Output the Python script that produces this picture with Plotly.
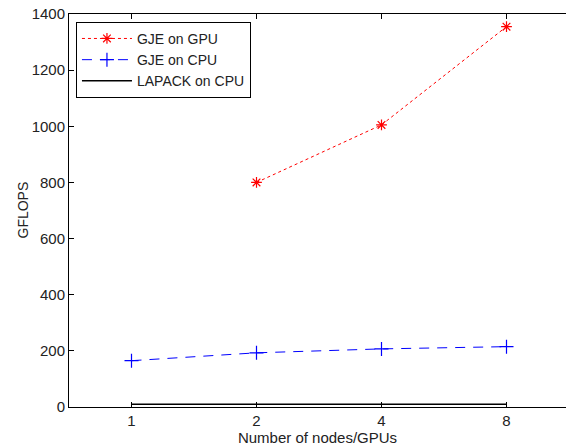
import plotly.graph_objects as go

nodes = ["1", "2", "4", "8"]
gpu_nodes = ["2", "4", "8"]
gje_gpu = [800, 1005, 1355]
gje_cpu = [165, 193, 207, 215]
lapack_cpu = [10, 10, 10, 10]
y_ticks = [0, 200, 400, 600, 800, 1000, 1200, 1400]

FONT = "Liberation Sans, Arial, sans-serif"
TXT = "#222"

fig = go.Figure()
fig.add_trace(go.Scatter(
    x=gpu_nodes, y=gje_gpu, name="GJE on GPU", mode="lines+markers",
    line=dict(color="red", width=1, dash="dot"),
    marker=dict(symbol="asterisk-open", size=9, line=dict(color="red", width=1.2)),
))
fig.add_trace(go.Scatter(
    x=nodes, y=gje_cpu, name="GJE on CPU", mode="lines+markers",
    line=dict(color="blue", width=1, dash="10px,8px"),
    marker=dict(symbol="cross-thin-open", size=10, line=dict(color="blue", width=1.2)),
))
fig.add_trace(go.Scatter(
    x=nodes, y=lapack_cpu, name="LAPACK on CPU", mode="lines",
    line=dict(color="black", width=1.5),
))

tick_common = dict(
    ticks="inside", ticklen=5, tickcolor="black", tickwidth=1,
    showgrid=False, zeroline=False, automargin=False,
    ticklabeloverflow="allow",
    tickfont=dict(family=FONT, size=15, color=TXT),
)

fig.update_xaxes(
    type="category", categoryorder="array", categoryarray=nodes,
    range=[-0.5, 3.476],
    showline=True, linecolor="black", linewidth=1, mirror="ticks",
    title=dict(text="Number of nodes/GPUs", font=dict(family=FONT, size=15, color=TXT)),
    **tick_common,
)
fig.update_yaxes(
    range=[0, 1400], tickvals=y_ticks,
    showline=True, linecolor="black", linewidth=1, mirror=False,
    **tick_common,
)
# right-hand ticks only (the right spine lies just outside the visible area)
fig.update_layout(yaxis2=dict(
    overlaying="y", side="right", range=[0, 1400], tickvals=y_ticks,
    showline=False, showticklabels=False,
    ticks="inside", ticklen=5, tickcolor="black", tickwidth=1,
    showgrid=False, zeroline=False, automargin=False,
))

fig.add_annotation(
    text="GFLOPS", xref="paper", yref="paper", x=0, y=0.5,
    xanchor="center", yanchor="middle", xshift=-47, textangle=-90,
    showarrow=False, font=dict(family=FONT, size=14, color=TXT),
)

fig.update_layout(
    width=566, height=446,
    margin=dict(l=69, r=0, t=14, b=39, autoexpand=False),
    paper_bgcolor="white", plot_bgcolor="white",
    font=dict(family=FONT, size=15, color=TXT),
    legend=dict(
        x=0.014, y=0.98, xanchor="left", yanchor="top",
        bgcolor="white", bordercolor="black", borderwidth=1,
        font=dict(family=FONT, size=14, color=TXT),
        itemwidth=50, tracegroupgap=0,
    ),
    showlegend=True,
)

fig.write_html(
    "out.html",
    config={"displayModeBar": False},
    post_script="document.body.style.margin='0';document.body.style.overflow='hidden';",
)
